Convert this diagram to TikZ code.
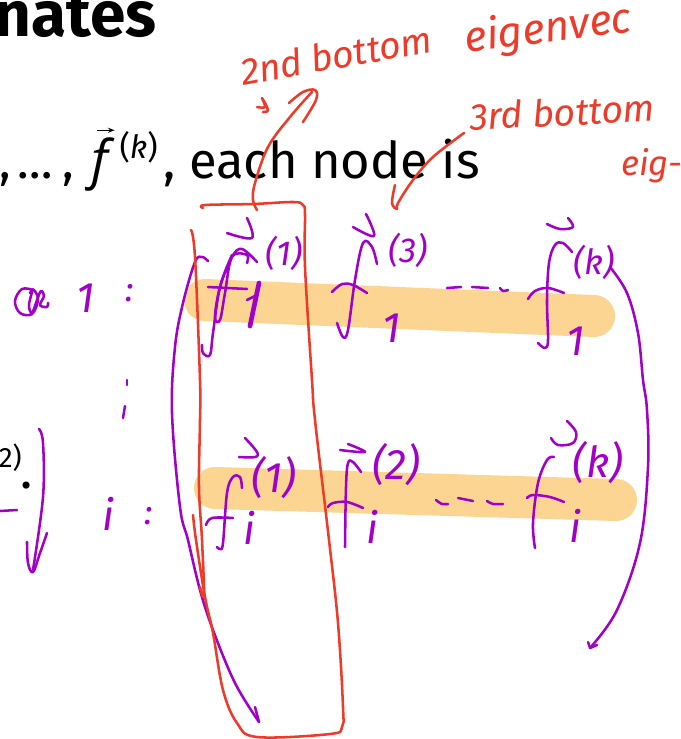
\documentclass[tikz,border=0pt]{standalone}
\usepackage{fontspec}
\setmainfont{Fira Sans}
\newfontfamily\mathletter{Open Sans}
\usetikzlibrary{positioning, arrows.meta}
\definecolor{inkPurple}{HTML}{A100C8}
\definecolor{inkRed}{HTML}{EE3A28}
\definecolor{markerOrange}{HTML}{FCD592}
\tikzset{
    marker/.style={draw=markerOrange, line width=31.5pt, line cap=round},
    purpleink/.style={draw=inkPurple, line width=1.9pt, line cap=round, line join=round, smooth, tension=0.6},
    redink/.style={draw=inkRed, line width=1.9pt, line cap=round, line join=round, smooth, tension=0.6},
    slidetext/.style={inner sep=0pt, anchor=base east, text=black, font=\fontsize{38}{42}\selectfont},
    titletext/.style={inner sep=0pt, anchor=base east, text=black, font=\fontsize{48}{52}\selectfont\bfseries},
    redhand/.style={inner sep=0pt, text=inkRed, font=\fontsize{28}{30}\selectfont\itshape},
    purplehand/.style={inner sep=0pt, text=inkPurple, font=\fontsize{26}{28}\selectfont\itshape},
    purplebig/.style={inner sep=0pt, text=inkPurple, font=\fontsize{32}{34}\selectfont\itshape},
}
\begin{document}
\begin{tikzpicture}[x=0.75pt, y=-0.75pt]
    \useasboundingbox (0,0) rectangle (681,739);

    \draw[marker] (205,300) -- (594,316);
    \draw[marker] (215,488) -- (616,500);

    \node[titletext] (title) at (157,36) {nates};
    \node[slidetext, font=\fontsize{36}{40}\selectfont] (listdots) at (74,178) {,\hspace{0.12em}…\hspace{0.2em},};
    \node[slidetext, font=\fontsize{40}{44}\selectfont\mathletter\itshape] (vecf) at (108,178) {f};
    \draw[-{Stealth[length=5pt]}, line width=1pt] ([xshift=-8pt,yshift=5pt]vecf.north east) -- ([xshift=5pt,yshift=5pt]vecf.north east);
    \node[slidetext, font=\fontsize{24}{26}\selectfont] (vecfk) at (158,158) {(\textit{k})};
    \node[slidetext] (nodeis) at (480,178) {, each node is};
    \node[slidetext, font=\fontsize{21}{24}\selectfont] (cutoff) at (22,467) {2)};
    \node[slidetext] (cutdot) at (33,488) {.};

    % left margin
    \draw[purpleink] plot coordinates {(33,290) (22,289) (15,301) (20,313) (32,314) (38,300) (34,290) (30,293)};
    \draw[purpleink] plot coordinates {(33,289) (29,305) (32,313) (37,300) (41,291) (44,296) (40,305) (47,307) (48,303)};
    \node[purplebig] (rowone) at (86,298) {1};
    \node[purplehand] (rowonecolon) at (130,293) {:};
    \draw[purpleink] plot coordinates {(127,380) (127,385)};
    \draw[purpleink] plot coordinates {(125,406) (123,418)};
    \node[purplebig] (rowi) at (108,514) {i};
    \node[purplehand] (rowicolon) at (149,516) {:};
    \draw[purpleink] (0,511) -- (17,510);
    \draw[purpleink] plot coordinates {(39,429) (43,443) (43,497) (33,570)};
    \draw[purpleink] plot coordinates {(27,542) (28,563) (33,572) (40,553) (47,533)};

    % first row
    \draw[purpleink] plot coordinates {(227,233) (252,238) (247,218)};
    \draw[purpleink] plot coordinates {(257,262) (242,249) (232,257) (220,287) (215,317) (220,320) (225,293) (232,257) (247,255) (247,263)};
    \draw[purpleink] plot coordinates {(232,255) (220,287) (213,333) (210,355) (203,353) (202,345)};
    \draw[purpleink] (208,287) -- (247,289);
    \draw[purpleink, line width=3.5pt] (259,283) -- (250,326);
    \draw[purpleink] (247,300) -- (257,295);
    \node[purplehand] (fonesup) at (284,253) {(1)};
    \draw[purpleink] plot coordinates {(353,227) (374,236) (366,214)};
    \draw[purpleink] plot coordinates {(377,264) (372,247) (363,243) (355,280) (348,330) (343,337) (337,323)};
    \draw[purpleink] plot coordinates {(332,292) (342,284) (353,285) (367,293)};
    \node[purplehand] (ftwosup) at (408,250) {(3)};
    \node[purplebig] (ftwosub) at (392,328) {1};
    \draw[purpleink] (447,288) -- (461,287);
    \draw[purpleink] (472,287) -- (488,288);
    \draw[purpleink] plot coordinates {(500,288) (503,291) (508,290)};
    \draw[purpleink] plot coordinates {(547,224) (560,229) (573,227) (568,218)};
    \draw[purpleink] plot coordinates {(572,252) (563,243) (555,245) (549,263) (547,300) (548,340) (545,348) (538,343)};
    \draw[purpleink] plot coordinates {(528,299) (535,291) (548,288) (564,293)};
    \node[purplehand] (fksup) at (594,262) {(k)};
    \node[purplebig] (fksub) at (576,341) {1};

    % second row
    \draw[purpleink] plot coordinates {(245,438) (257,452) (255,457) (239,457)};
    \draw[purpleink] plot coordinates {(242,488) (240,477) (233,477) (227,493) (223,543) (220,549) (217,547)};
    \draw[purpleink] plot coordinates {(206,525) (212,518) (233,518)};
    \node[purplebig] (fisub) at (249,528) {i};
    \node[purplebig] (fisup) at (274,478) {(1)};
    \draw[purpleink] plot coordinates {(340,450) (365,452) (348,444)};
    \draw[purpleink] plot coordinates {(361,472) (353,462) (348,463) (346,487) (345,547)};
    \draw[purpleink] plot coordinates {(328,507) (333,503) (347,502) (363,508)};
    \node[purplebig] (ftwoisub) at (372,527) {i};
    \node[purplebig] (ftwoisup) at (396,465) {(2)};
    \draw[purpleink] plot coordinates {(436,500) (442,504) (448,504)};
    \draw[purpleink] (458,498) -- (473,501);
    \draw[purpleink] plot coordinates {(487,501) (493,504) (503,504)};
    \draw[purpleink] plot coordinates {(551,438) (558,445) (573,443) (576,432) (567,421)};
    \draw[purpleink] plot coordinates {(554,457) (547,460) (538,483) (533,523) (535,548)};
    \draw[purpleink] plot coordinates {(527,498) (533,495) (550,497) (564,502)};
    \node[purplebig] (fkisub) at (575,526) {i};
    \node[purplebig] (fkisup) at (598,463) {(k)};

    % long arrows
    \draw[purpleink] plot coordinates {(208,261) (202,257) (195,262) (183,303) (175,347) (172,413) (180,507) (188,540) (200,590) (213,630) (235,683) (259,722)};
    \draw[purpleink] (255,707) -- (259,722);
    \draw[purpleink] plot coordinates {(610,267) (627,293) (638,333) (643,380) (647,410) (648,467) (640,543) (617,610) (590,648)};
    \draw[purpleink] (588,642) -- (590,648) -- (597,645);

    % red box and labels
    \draw[redink] plot coordinates {(203,208) (205,205) (253,204) (293,202) (303,205) (305,215) (305,267) (312,380) (315,420) (329,540) (338,623) (343,707) (342,727) (330,734) (257,737) (237,723) (223,690) (213,633) (205,597) (196,540) (193,515)};
    \draw[redink] plot coordinates {(191,230) (195,257) (200,380) (200,420) (199,487) (202,540) (204,595) (200,587)};
    \draw[redink] plot coordinates {(257,210) (253,200) (255,183) (268,147) (290,117) (312,92)};
    \draw[redink] plot coordinates {(289,103) (303,92) (315,90) (316,100) (303,122)};
    \draw[redink] plot coordinates {(257,107) (265,107) (262,98) (268,110) (263,112)};
    \draw[redink] plot coordinates {(464,133) (433,157) (413,180) (398,203) (397,209) (392,203) (395,185)};
    \node[redhand, rotate=10] (secondlabel) at (336,55) {2nd bottom};
    \node[redhand, rotate=7, font=\fontsize{32}{34}\selectfont\itshape] (eigenlabel) at (548,30) {eigenvec};
    \node[redhand, rotate=3] (thirdlabel) at (562,112) {3rd bottom};
    \node[redhand, font=\fontsize{26}{28}\selectfont\itshape] (eiglabel) at (652,166) {eig-};
\end{tikzpicture}
\end{document}
